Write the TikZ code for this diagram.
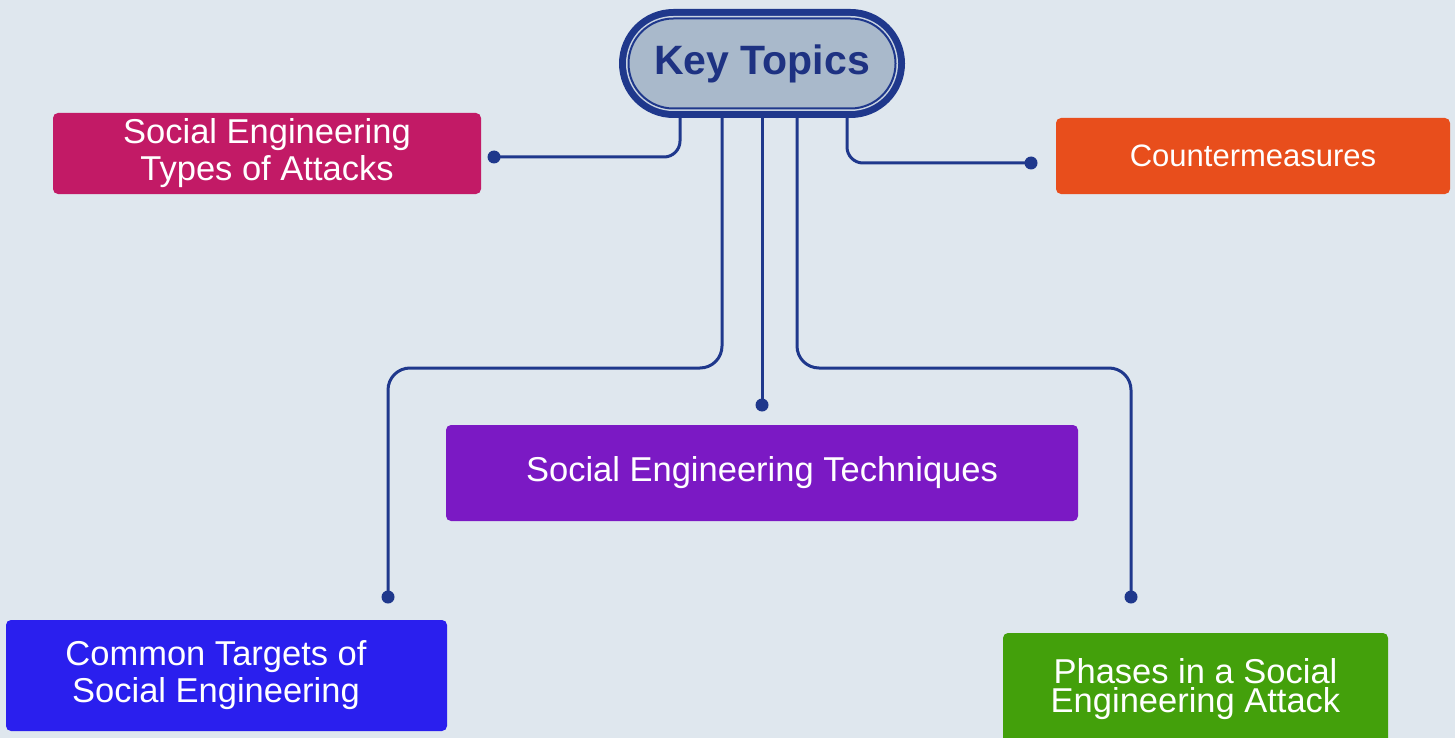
\documentclass[tikz,border=0pt]{standalone}
\usepackage{fontspec}
\setmainfont{Liberation Sans}
\usetikzlibrary{shapes.misc,backgrounds}
\definecolor{bgc}{HTML}{DFE7EE}
\definecolor{navy}{HTML}{1F388C}
\definecolor{navytext}{HTML}{1E3282}
\definecolor{pillfill}{HTML}{A9B9CB}
\definecolor{rimlight}{HTML}{C9D4E2}
\definecolor{cmag}{HTML}{C21A66}
\definecolor{corange}{HTML}{E84E1C}
\definecolor{cpurple}{HTML}{7B19C4}
\definecolor{cblue}{HTML}{2A1FEE}
\definecolor{cgreen}{HTML}{43A00B}
\tikzset{
  box/.style={rectangle, rounded corners=5pt, text=white, align=center, inner sep=0pt,
    font=\fontsize{34.5}{37}\selectfont},
  conn/.style={draw=navy, line width=3pt},
  enddot/.style={fill=navy},
}
\begin{document}
\begin{tikzpicture}[x=1pt,y=-1pt]
\useasboundingbox (0,0) rectangle (1455,738);
% central pill
\node[rounded rectangle, fill=navy, minimum width=286pt, minimum height=109pt, inner sep=0pt] (keyrim) at (762,63.5) {};
\node[rounded rectangle, fill=rimlight, minimum width=272pt, minimum height=95pt, inner sep=0pt] (keyring) at (keyrim.center) {};
\node[rounded rectangle, fill=pillfill, draw=navy, line width=2pt, minimum width=267pt, minimum height=90pt, inner sep=0pt,
  text=navytext, font=\bfseries\fontsize{41}{41}\selectfont] (key) at (keyrim.center) {Key Topics};
% boxes
\node[box, fill=cmag, minimum width=428pt, minimum height=81pt] (types) at (267,153.5) {Social Engineering\\Types of Attacks};
\node[box, fill=corange, minimum width=394pt, minimum height=76pt, font=\fontsize{31}{34}\selectfont] (counter) at (1253,156) {Countermeasures};
\node[box, fill=cpurple, minimum width=632pt, minimum height=96pt] (tech) at (762,473) {Social Engineering Techniques};
\node[box, fill=cblue, minimum width=441pt, minimum height=111pt] (targets) at (226.5,675.5) {};
\node[text=white, align=center, inner sep=0pt, font=\fontsize{34.5}{37}\selectfont] (targetstext) at (216,675) {Common Targets of\\Social Engineering};
\node[box, fill=cgreen, minimum width=385pt, minimum height=112pt, font=\fontsize{34.5}{29}\selectfont] (phases) at (1195.5,689) {Phases in a Social\\Engineering Attack};
% connector anchor points
\coordinate (k1) at (680,110);
\coordinate (k2) at (722,110);
\coordinate (k3) at (762,110);
\coordinate (k4) at (797,110);
\coordinate (k5) at (847,110);
\coordinate (d1) at (494,157);
\coordinate (d2) at (388,597);
\coordinate (d3) at (762,405);
\coordinate (d4) at (1131,597);
\coordinate (d5) at (1031,163);
\begin{scope}[on background layer]
\fill[bgc] (0,0) rectangle (1455,738);
\draw[conn, rounded corners=16pt] (k1) |- (d1);
\draw[conn, rounded corners=16pt] (k5) |- (d5);
\draw[conn, rounded corners=22pt] (k2) -- ++(0,258) -| (d2);
\draw[conn] (k3) -- (d3);
\draw[conn, rounded corners=22pt] (k4) -- ++(0,258) -| (d4);
\foreach \d in {d1,d2,d3,d4,d5} \fill[enddot] (\d) circle (6.5pt);
\end{scope}
\end{tikzpicture}
\end{document}
